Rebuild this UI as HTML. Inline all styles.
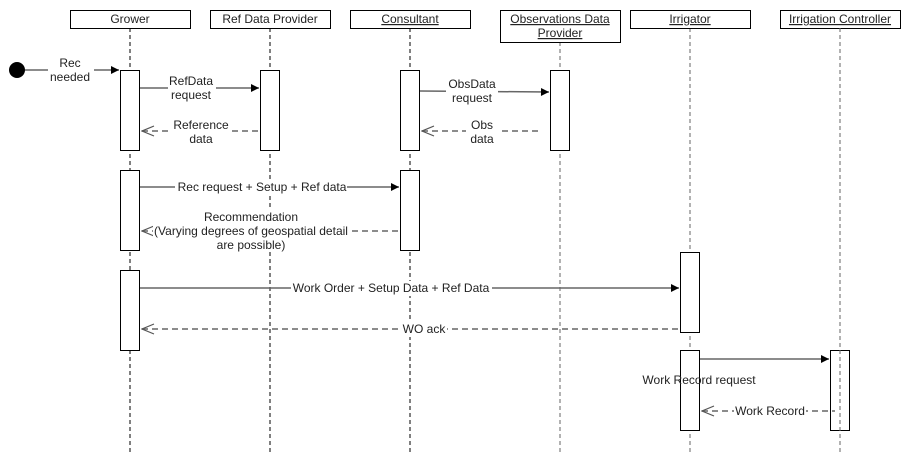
<!DOCTYPE html>
<html><head><meta charset="utf-8"><style>
html,body{margin:0;padding:0;background:#fff;}
svg{display:block;}
text{font-family:"Liberation Sans",Arial,sans-serif;font-size:12px;fill:#222;}
</style></head><body>
<svg width="921" height="470" viewBox="0 0 921 470" xmlns="http://www.w3.org/2000/svg">
<defs>
<marker id="fa" markerWidth="10" markerHeight="10" refX="9" refY="5" orient="auto" markerUnits="userSpaceOnUse"><path d="M1,1 L9,5 L1,9 Z" fill="#000"/></marker>
<marker id="oa" markerWidth="14" markerHeight="12" refX="1" refY="6" orient="auto" markerUnits="userSpaceOnUse"><path d="M13,1 L1,6 L13,11" fill="none" stroke="#555" stroke-width="1.2"/></marker>
</defs>
<g stroke-dasharray="4,3" stroke-width="1">
<line x1="130" y1="28" x2="130" y2="452" stroke="#000"/>
<line x1="270" y1="28" x2="270" y2="452" stroke="#000"/>
<line x1="410" y1="28" x2="410" y2="452" stroke="#000"/>
<line x1="560" y1="42" x2="560" y2="452" stroke="#666"/>
<line x1="690" y1="28" x2="690" y2="452" stroke="#666"/>
</g>
<g fill="#fff" stroke="#000" stroke-width="1">
<rect x="70.5" y="10.5" width="120" height="18"/>
<rect x="210.5" y="10.5" width="120" height="18"/>
<rect x="350.5" y="10.5" width="120" height="18"/>
<rect x="500.5" y="10.5" width="120" height="32"/>
<rect x="630.5" y="10.5" width="120" height="18"/>
<rect x="780.5" y="10.5" width="120" height="18"/>
</g>
<g text-anchor="middle">
<text x="130" y="23">Grower</text>
<text x="270" y="23">Ref Data Provider</text>
<text x="410" y="23" text-decoration="underline">Consultant</text>
<text x="560" y="23" text-decoration="underline">Observations Data</text>
<text x="560" y="37" text-decoration="underline">Provider</text>
<text x="690" y="23" text-decoration="underline">Irrigator</text>
<text x="840" y="23" text-decoration="underline">Irrigation Controller</text>
</g>
<g fill="#fff" stroke="#000" stroke-width="1">
<rect x="120.5" y="70.5" width="19" height="80"/>
<rect x="260.5" y="70.5" width="19" height="80"/>
<rect x="400.5" y="70.5" width="19" height="80"/>
<rect x="550.5" y="70.5" width="19" height="80"/>
<rect x="120.5" y="170.5" width="19" height="80"/>
<rect x="400.5" y="170.5" width="19" height="80"/>
<rect x="120.5" y="270.5" width="19" height="80"/>
<rect x="680.5" y="252.5" width="19" height="80"/>
<rect x="680.5" y="350.5" width="19" height="80"/>
<rect x="830.5" y="350.5" width="19" height="80"/>
</g>
<line x1="840" y1="28" x2="840" y2="452" stroke="#666" stroke-dasharray="4,3"/>
<circle cx="17" cy="70" r="8" fill="#000"/>
<g stroke="#666" stroke-width="1.5" fill="none">
<line x1="25" y1="70" x2="119" y2="70" marker-end="url(#fa)"/>
<line x1="140" y1="88" x2="259" y2="88" marker-end="url(#fa)"/>
<line x1="420" y1="91" x2="549" y2="92" marker-end="url(#fa)"/>
<line x1="140" y1="187" x2="399" y2="187" marker-end="url(#fa)"/>
<line x1="140" y1="288" x2="679" y2="288" marker-end="url(#fa)"/>
<line x1="700" y1="359" x2="829" y2="359" marker-end="url(#fa)"/>
</g>
<g stroke="#666" stroke-width="1.5" fill="none" stroke-dasharray="6,4">
<line x1="142" y1="131" x2="260" y2="131" marker-start="url(#oa)"/>
<line x1="422" y1="131" x2="540" y2="131" marker-start="url(#oa)"/>
<line x1="142" y1="231" x2="400" y2="231" marker-start="url(#oa)"/>
<line x1="142" y1="329" x2="680" y2="329" marker-start="url(#oa)"/>
<line x1="702" y1="411" x2="835" y2="411" marker-start="url(#oa)"/>
</g>
<g text-anchor="middle">
<rect x="48" y="56" width="46" height="28" fill="#fff"/>
<text x="70" y="67">Rec</text><text x="70" y="81">needed</text>
<rect x="168" y="74" width="48" height="28" fill="#fff"/>
<text x="191" y="85">RefData</text><text x="191" y="99">request</text>
<rect x="172" y="117" width="58" height="28" fill="#fff"/>
<text x="201" y="129">Reference</text><text x="201" y="143">data</text>
<rect x="446" y="77" width="52" height="28" fill="#fff"/>
<text x="472" y="88">ObsData</text><text x="472" y="102">request</text>
<rect x="466" y="117" width="32" height="28" fill="#fff"/>
<text x="482" y="129">Obs</text><text x="482" y="143">data</text>
<rect x="175" y="180" width="172" height="15" fill="#fff"/>
<text x="262" y="191">Rec request + Setup + Ref data</text>
<rect x="153" y="210" width="196" height="42" fill="#fff"/>
<text x="251" y="221">Recommendation</text>
<text x="251" y="235">(Varying degrees of geospatial detail</text>
<text x="251" y="249">are possible)</text>
<rect x="291" y="281" width="201" height="15" fill="#fff"/>
<text x="391" y="292">Work Order + Setup Data + Ref Data</text>
<rect x="401" y="322" width="46" height="15" fill="#fff"/>
<text x="424" y="333">WO ack</text>
<text x="699" y="384">Work Record request</text>
<rect x="734" y="404" width="72" height="15" fill="#fff"/>
<text x="770" y="415">Work Record</text>
</g>
</svg>
</body></html>
